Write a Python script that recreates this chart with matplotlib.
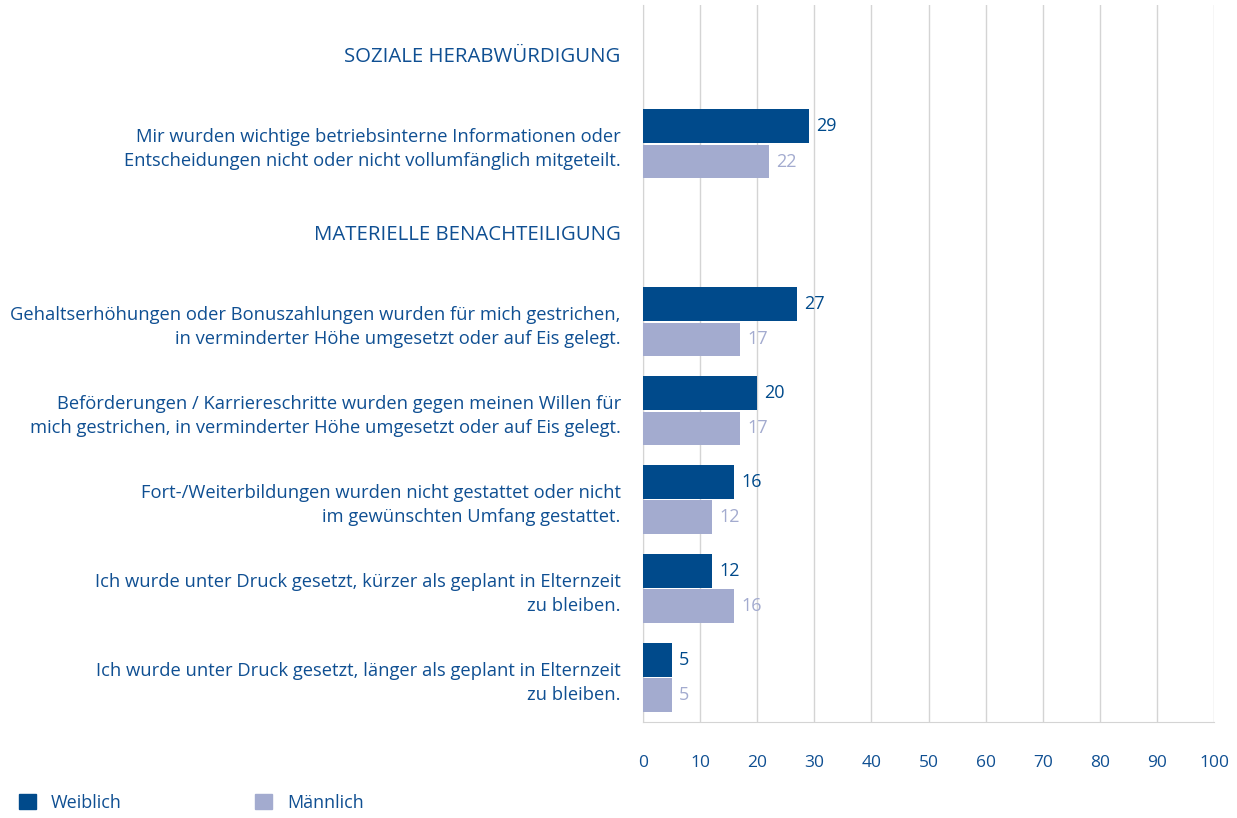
import matplotlib.pyplot as plt
from matplotlib.patches import Patch
import numpy as np

plt.rcParams['font.family'] = ['Open Sans', 'DejaVu Sans']

# Zeilen von oben nach unten; Überschriften haben keine Balken
zeilen = [
    "SOZIALE HERABWÜRDIGUNG",
    "Mir wurden wichtige betriebsinterne Informationen oder\nEntscheidungen nicht oder nicht vollumfänglich mitgeteilt.",
    "MATERIELLE BENACHTEILIGUNG",
    "Gehaltserhöhungen oder Bonuszahlungen wurden für mich gestrichen,\nin verminderter Höhe umgesetzt oder auf Eis gelegt.",
    "Beförderungen / Karriereschritte wurden gegen meinen Willen für\nmich gestrichen, in verminderter Höhe umgesetzt oder auf Eis gelegt.",
    "Fort-/Weiterbildungen wurden nicht gestattet oder nicht\nim gewünschten Umfang gestattet.",
    "Ich wurde unter Druck gesetzt, kürzer als geplant in Elternzeit\nzu bleiben.",
    "Ich wurde unter Druck gesetzt, länger als geplant in Elternzeit\nzu bleiben.",
]
ist_ueberschrift = [True, False, True, False, False, False, False, False]
weiblich = [None, 29, None, 27, 20, 16, 12, 5]
maennlich = [None, 22, None, 17, 17, 12, 16, 5]
x_ticks = list(range(0, 101, 10))

farbe_w = '#004a8b'
farbe_m = '#a3abcf'
text_farbe = '#0f4f92'

fig = plt.figure(figsize=(12.37, 8.18), dpi=100)
ax = fig.add_axes([643 / 1237, 1 - 722 / 818, 571 / 1237, 717 / 818])

h = 0.38
off = 0.2
for i, kopf in enumerate(ist_ueberschrift):
    if kopf:
        continue
    w, m = weiblich[i], maennlich[i]
    ax.barh(i - off, w, height=h, color=farbe_w, zorder=3)
    ax.barh(i + off, m, height=h, color=farbe_m, zorder=3)
    ax.text(w + 1.3, i - off, str(w), va='center', ha='left', fontsize=13,
            color=farbe_w, zorder=4)
    ax.text(m + 1.3, i + off, str(m), va='center', ha='left', fontsize=13,
            color=farbe_m, zorder=4)

ax.set_xlim(0, 100)
ax.set_ylim(len(zeilen) - 1 + 0.5, -0.56)
ax.set_xticks(x_ticks)
ax.set_yticks(range(len(zeilen)))
ax.set_yticklabels(zeilen, fontsize=13.2, color=text_farbe, linespacing=1.45)
ax.tick_params(axis='y', length=0, pad=16)
ax.tick_params(axis='x', length=0, pad=24, labelsize=12.5, labelcolor=text_farbe)
for lab, kopf in zip(ax.get_yticklabels(), ist_ueberschrift):
    lab.set_horizontalalignment('right')
    if kopf:
        lab.set_fontsize(14.7)

ax.grid(axis='x', color='#d4d4d4', linewidth=1, zorder=0)
for s in ['top', 'right']:
    ax.spines[s].set_visible(False)
ax.spines['left'].set_color('#d4d4d4')
ax.spines['bottom'].set_color('#d4d4d4')

handles = [Patch(color=farbe_w, label='Weiblich'), Patch(color=farbe_m, label='Männlich')]
leg = fig.legend(handles=handles, loc='lower left', bbox_to_anchor=(0.002, -0.012), ncol=2,
                 frameon=False, fontsize=13, handlelength=0.95, handleheight=0.95,
                 handletextpad=0.85, columnspacing=7.35)
for t in leg.get_texts():
    t.set_color(text_farbe)

plt.savefig('out.png', dpi=100)
